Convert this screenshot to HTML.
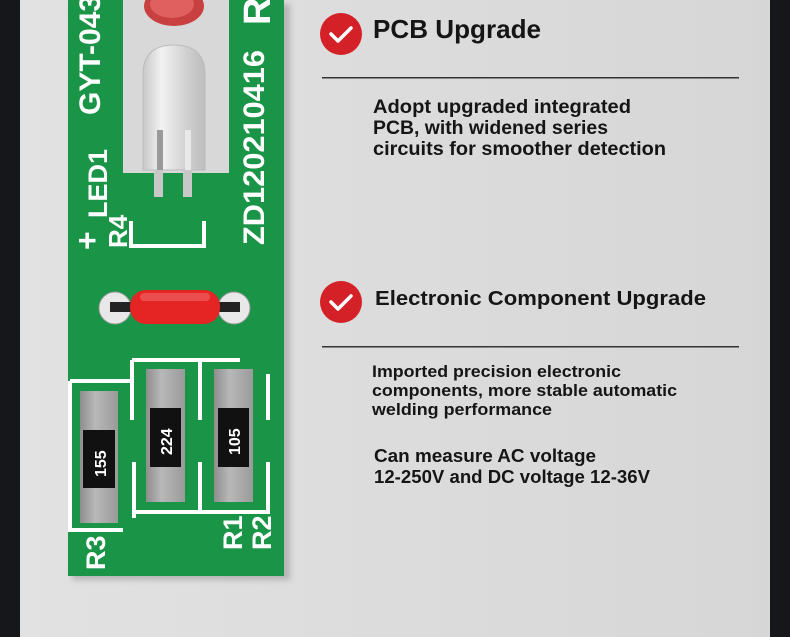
<!DOCTYPE html>
<html><head><meta charset="utf-8"><style>
html,body{margin:0;padding:0;background:#dcdcdc;}
svg{display:block}
text{font-family:"Liberation Sans",sans-serif;font-weight:bold;}
</style></head><body>
<svg width="790" height="637" viewBox="0 0 790 637" xmlns="http://www.w3.org/2000/svg">
<defs>
<linearGradient id="bg" x1="0" x2="1" y1="0" y2="0"><stop offset="0" stop-color="#e2e2e2"/><stop offset="1" stop-color="#d6d6d6"/></linearGradient>
<linearGradient id="res" x1="0" x2="1"><stop offset="0" stop-color="#8e8e8e"/><stop offset="0.4" stop-color="#b8b8b8"/><stop offset="1" stop-color="#9a9a9a"/></linearGradient>
<linearGradient id="bulb" x1="0" x2="1"><stop offset="0" stop-color="#c8c8c8"/><stop offset="0.3" stop-color="#f2f2f2"/><stop offset="0.7" stop-color="#d0d0d0"/><stop offset="1" stop-color="#bdbdbd"/></linearGradient>
<filter id="blur"><feGaussianBlur stdDeviation="3"/></filter>
</defs>
<rect width="790" height="637" fill="url(#bg)"/>
<rect x="0" y="0" width="20" height="637" fill="#15171b"/>
<rect x="770" y="0" width="20" height="637" fill="#15171b"/>
<rect x="72" y="4" width="218" height="576" fill="#999" opacity="0.6" filter="url(#blur)"/>
<rect x="68" y="0" width="216" height="576" fill="#1a9446"/>
<rect x="123" y="0" width="106" height="173" fill="#d8d8d8"/>
<ellipse cx="174" cy="6" rx="30" ry="20" fill="#c94040"/>
<ellipse cx="172" cy="4" rx="22" ry="14" fill="#e06060"/>
<path d="M143 170 L143 75 Q143 45 174 45 Q205 45 205 75 L205 170 Z" fill="url(#bulb)" stroke="#bbb"/>
<rect x="157" y="130" width="6" height="40" fill="#999"/>
<rect x="185" y="130" width="6" height="40" fill="#e8e8e8"/>
<rect x="154" y="170" width="9" height="27" fill="#c8c8c8"/>
<rect x="183" y="170" width="9" height="27" fill="#c8c8c8"/>
<g fill="#fff">
<text transform="translate(100,115) rotate(-90)" font-size="30">GYT-043</text>
<text transform="translate(107,218) rotate(-90)" font-size="27">LED1</text>
<text transform="translate(98,250) rotate(-90)" font-size="32">+</text>
<text transform="translate(127,248) rotate(-90)" font-size="26">R4</text>
<text transform="translate(264,245) rotate(-90)" font-size="30" textLength="195" lengthAdjust="spacingAndGlyphs">ZD120210416</text>
<text transform="translate(270,25) rotate(-90)" font-size="38">R</text>
<text transform="translate(105,570) rotate(-90)" font-size="27">R3</text>
<text transform="translate(242,550) rotate(-90)" font-size="27">R1</text>
<text transform="translate(271,550) rotate(-90)" font-size="27">R2</text>
</g>
<g stroke="#fff" stroke-width="4" fill="none">
<path d="M131 221 V246 H204 V221"/>
<path d="M70 381 H130 M132 360 V379 V420 M132 360 H240 M200 360 V420"/>
<path d="M70 381 V530 H123"/>
<path d="M134 462 V518 M132 512 H270 M200 462 V512 M268 462 V512 M268 374 V420"/>
</g>
<circle cx="115" cy="308" r="16" fill="#e8e8e8" stroke="#999"/>
<circle cx="234" cy="308" r="16" fill="#e8e8e8" stroke="#999"/>
<rect x="110" y="302" width="130" height="10" fill="#222"/>
<rect x="130" y="290" width="90" height="34" rx="16" fill="#e52424"/>
<rect x="140" y="293" width="70" height="8" rx="4" fill="#f06060" opacity="0.7"/>
<rect x="80" y="391" width="38" height="132" fill="url(#res)"/>
<rect x="83" y="430" width="32" height="58" fill="#111"/>
<text transform="translate(106,477) rotate(-90)" font-size="16" fill="#fff" font-weight="normal">155</text>
<rect x="146" y="369" width="39" height="133" fill="url(#res)"/>
<rect x="150" y="408" width="31" height="59" fill="#111"/>
<text transform="translate(172,455) rotate(-90)" font-size="16" fill="#fff" font-weight="normal">224</text>
<rect x="214" y="369" width="39" height="133" fill="url(#res)"/>
<rect x="218" y="408" width="31" height="59" fill="#111"/>
<text transform="translate(240,455) rotate(-90)" font-size="16" fill="#fff" font-weight="normal">105</text>
<circle cx="341" cy="34" r="21" fill="#d42027"/>
<path d="M331 34 L338 41 L351 28" stroke="#fff" stroke-width="3.5" fill="none" stroke-linecap="round" stroke-linejoin="round"/>
<text x="373" y="38" font-size="26" fill="#151515" textLength="168" lengthAdjust="spacingAndGlyphs">PCB Upgrade</text>
<rect x="322" y="77" width="417" height="1.5" fill="#333"/>
<g fill="#151515" font-size="19">
<text x="373" y="113" textLength="258" lengthAdjust="spacingAndGlyphs">Adopt upgraded integrated</text>
<text x="373" y="134" textLength="235" lengthAdjust="spacingAndGlyphs">PCB, with widened series</text>
<text x="373" y="155" textLength="293" lengthAdjust="spacingAndGlyphs">circuits for smoother detection</text>
</g>
<circle cx="341" cy="302" r="21" fill="#d42027"/>
<path d="M331 302 L338 309 L351 296" stroke="#fff" stroke-width="3.5" fill="none" stroke-linecap="round" stroke-linejoin="round"/>
<text x="375" y="305" font-size="20" fill="#151515" textLength="331" lengthAdjust="spacingAndGlyphs">Electronic Component Upgrade</text>
<rect x="322" y="346" width="417" height="1.5" fill="#333"/>
<g fill="#151515" font-size="17">
<text x="372" y="377" textLength="249" lengthAdjust="spacingAndGlyphs">Imported precision electronic</text>
<text x="372" y="396" textLength="305" lengthAdjust="spacingAndGlyphs">components, more stable automatic</text>
<text x="372" y="415" textLength="180" lengthAdjust="spacingAndGlyphs">welding performance</text>
</g>
<g fill="#151515" font-size="18">
<text x="374" y="462" textLength="222" lengthAdjust="spacingAndGlyphs">Can measure AC voltage</text>
<text x="374" y="483" textLength="276" lengthAdjust="spacingAndGlyphs">12-250V and DC voltage 12-36V</text>
</g>
</svg>
</body></html>
